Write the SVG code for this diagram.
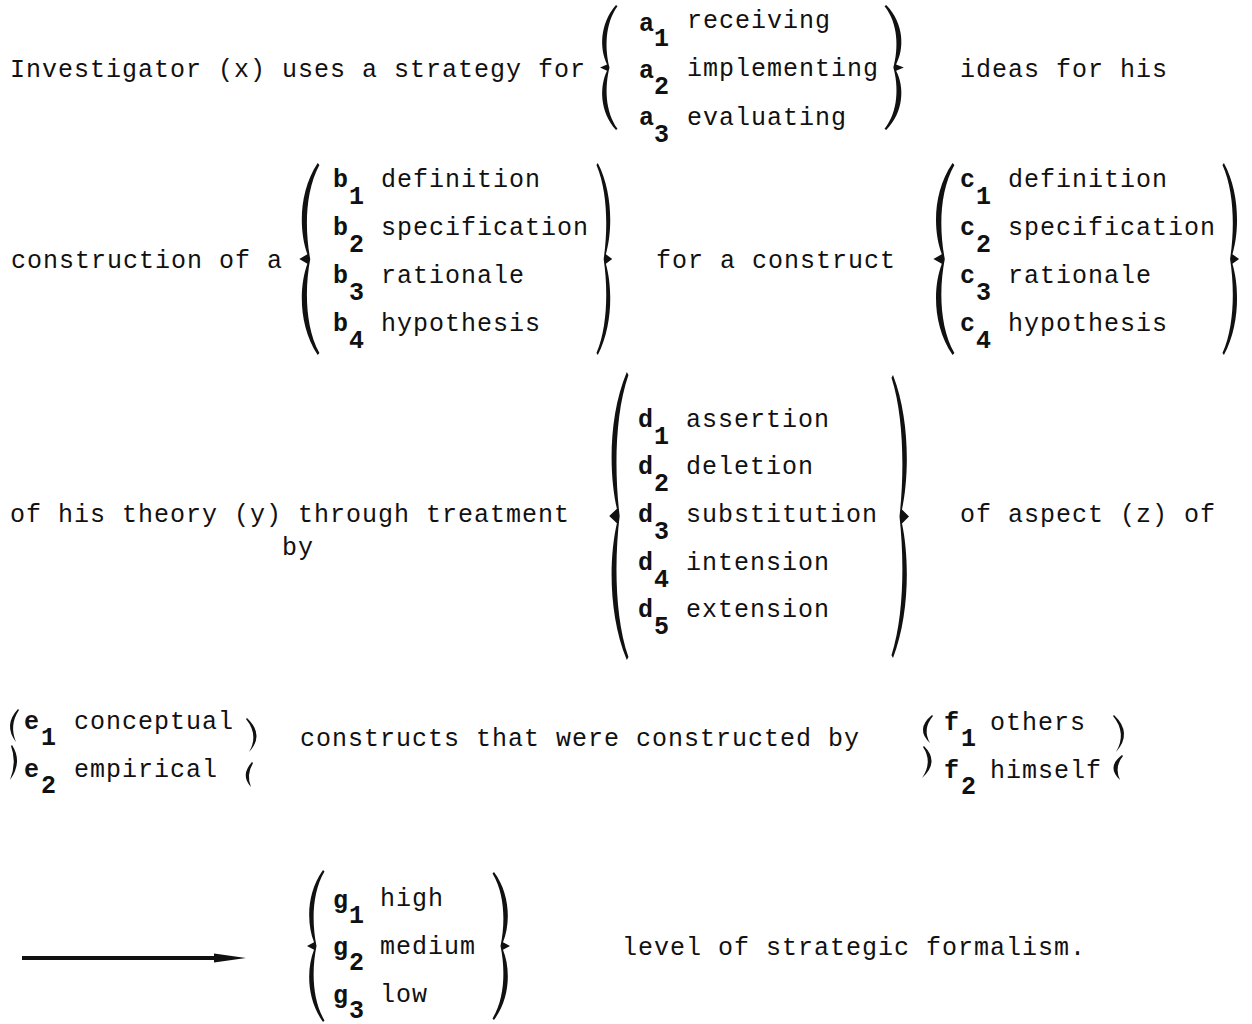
<svg xmlns="http://www.w3.org/2000/svg" xmlns:xlink="http://www.w3.org/1999/xlink" width="1252" height="1024" viewBox="0 0 1252 1024">
<style>
text{font-family:"Liberation Mono","DejaVu Sans Mono",monospace;font-size:25px;letter-spacing:1px;fill:#111}
.v{font-weight:bold}
.br{fill:#111}
</style>
<defs>
<path id="lb" d="M18,0 C1.5,15 1.5,35 9,47.5 L2,50 L9,52.5 C1.5,65 1.5,85 18,100 L19.5,99 C6.8,85 6.8,65 11.5,50 C6.8,35 6.8,15 19.5,1 Z"/>
<marker id="ah" markerWidth="8" markerHeight="4" refX="0" refY="2" orient="auto" markerUnits="strokeWidth"><path d="M0,0.9 L8,2 L0,3.1 Z" fill="#111"/></marker>
</defs>
<rect width="1252" height="1024" fill="#fff"/>

<g id="row-a">
<text x="10" y="77">Investigator (x) uses a strategy for</text>
<g class="br">
<use xlink:href="#lb" transform="translate(598,5) scale(1,1.25)"/>
<use xlink:href="#lb" transform="translate(906,5) scale(-1.1,1.25)"/>
</g>
<text class="v" x="639" y="31">a</text><text class="v" x="654" y="46">1</text><text x="687" y="28">receiving</text>
<text class="v" x="639" y="78">a</text><text class="v" x="654" y="94">2</text><text x="687" y="76">implementing</text>
<text class="v" x="639" y="125">a</text><text class="v" x="654" y="142">3</text><text x="687" y="125">evaluating</text>
<text x="960" y="77">ideas for his</text>
</g>

<g id="row-b">
<text x="11" y="268">construction of a</text>
<g class="br">
<use xlink:href="#lb" transform="translate(297,163) scale(1.15,1.92)"/>
<use xlink:href="#lb" transform="translate(614,163) scale(-0.9,1.92)"/>
</g>
<text class="v" x="333" y="187">b</text><text class="v" x="349" y="204">1</text><text x="381" y="187">definition</text>
<text class="v" x="333" y="235">b</text><text class="v" x="349" y="252">2</text><text x="381" y="235">specification</text>
<text class="v" x="333" y="283">b</text><text class="v" x="349" y="300">3</text><text x="381" y="283">rationale</text>
<text class="v" x="333" y="331">b</text><text class="v" x="349" y="348">4</text><text x="381" y="331">hypothesis</text>
<text x="656" y="268">for a construct</text>
</g>

<g id="row-c">
<g class="br">
<use xlink:href="#lb" transform="translate(931,163) scale(1.2,1.92)"/>
<use xlink:href="#lb" transform="translate(1241,163) scale(-0.95,1.92)"/>
</g>
<text class="v" x="960" y="187">c</text><text class="v" x="976" y="204">1</text><text x="1008" y="187">definition</text>
<text class="v" x="960" y="235">c</text><text class="v" x="976" y="252">2</text><text x="1008" y="235">specification</text>
<text class="v" x="960" y="283">c</text><text class="v" x="976" y="300">3</text><text x="1008" y="283">rationale</text>
<text class="v" x="960" y="331">c</text><text class="v" x="976" y="348">4</text><text x="1008" y="331">hypothesis</text>
</g>

<g id="row-d">
<text x="10" y="522">of his theory (y) through treatment</text>
<text x="282" y="555">by</text>
<g class="br">
<use xlink:href="#lb" transform="translate(607,372) scale(1.1,2.88)"/>
<use xlink:href="#lb" transform="translate(911,375) scale(-1,2.83)"/>
</g>
<text class="v" x="638" y="427">d</text><text class="v" x="654" y="444">1</text><text x="686" y="427">assertion</text>
<text class="v" x="638" y="474">d</text><text class="v" x="654" y="491">2</text><text x="686" y="474">deletion</text>
<text class="v" x="638" y="522">d</text><text class="v" x="654" y="539">3</text><text x="686" y="522">substitution</text>
<text class="v" x="638" y="570">d</text><text class="v" x="654" y="587">4</text><text x="686" y="570">intension</text>
<text class="v" x="638" y="617">d</text><text class="v" x="654" y="634">5</text><text x="686" y="617">extension</text>
<text x="960" y="522">of aspect (z) of</text>
</g>

<g id="row-e">
<g class="br">
<path d="M18,709 Q3,725 16,742 Q9,725 19,710 Z"/>
<path d="M12,745 Q23,762 10,780 Q17,762 11,746 Z"/>
<path d="M247,718 Q265,735 249,752 Q259,735 246,719 Z"/>
<path d="M252,762 Q240,775 251,787 Q246,775 253,763 Z"/>
</g>
<text class="v" x="24" y="729">e</text><text class="v" x="41" y="745">1</text><text x="74" y="729">conceptual</text>
<text class="v" x="24" y="777">e</text><text class="v" x="41" y="793">2</text><text x="74" y="777">empirical</text>
<text x="300" y="746">constructs that were constructed by</text>
</g>

<g id="row-f">
<g class="br">
<path d="M932,715 Q915,729 930,743 Q922,729 933,716 Z"/>
<path d="M924,746 Q940,762 922,778 Q933,762 923,747 Z"/>
<path d="M1114,715 Q1133,733 1116,752 Q1127,733 1113,716 Z"/>
<path d="M1122,755 Q1106,767 1120,780 Q1114,767 1123,756 Z"/>
</g>
<text class="v" x="944" y="730">f</text><text class="v" x="961" y="746">1</text><text x="990" y="730">others</text>
<text class="v" x="944" y="778">f</text><text class="v" x="961" y="794">2</text><text x="990" y="778">himself</text>
</g>

<g id="connectors">
<line x1="22" y1="958" x2="214" y2="958" stroke="#111" stroke-width="4" marker-end="url(#ah)"/>
</g>

<g id="row-g">
<g class="br">
<use xlink:href="#lb" transform="translate(305,870) scale(1,1.52)"/>
<use xlink:href="#lb" transform="translate(512,872) scale(-1,1.48)"/>
</g>
<text class="v" x="333" y="908">g</text><text class="v" x="349" y="923">1</text><text x="380" y="906">high</text>
<text class="v" x="333" y="955">g</text><text class="v" x="349" y="970">2</text><text x="380" y="954">medium</text>
<text class="v" x="333" y="1003">g</text><text class="v" x="349" y="1018">3</text><text x="380" y="1002">low</text>
<text x="622" y="955">level of strategic formalism.</text>
</g>
</svg>
